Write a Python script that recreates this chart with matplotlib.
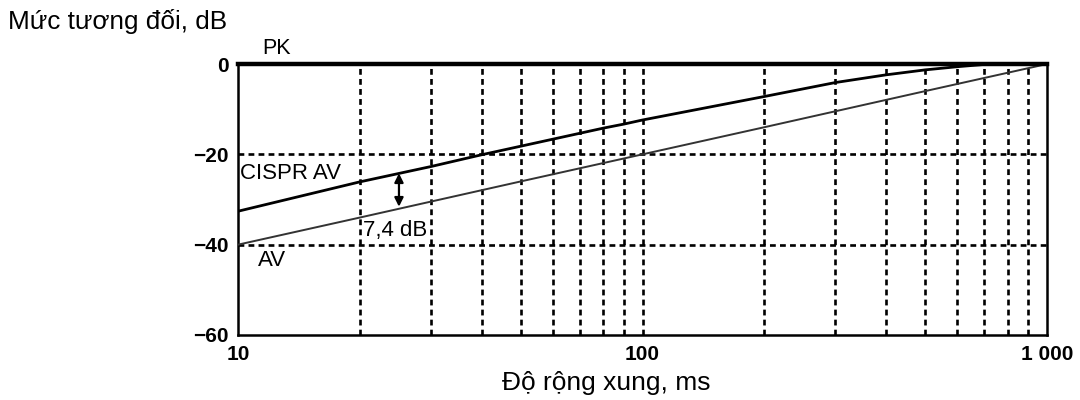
import matplotlib
matplotlib.use("Agg")
import matplotlib.pyplot as plt
from matplotlib.ticker import FixedLocator, NullFormatter

plt.rcParams['font.family'] = ['Liberation Sans', 'DejaVu Sans']

# Pulse width (ms) and relative level (dB) for each detector
pk_x = [10, 1000]
pk_y = [0, 0]

cispr_x = [10, 20, 30, 40, 50, 80, 90, 100, 200, 300, 400, 500, 600, 700, 800, 1000]
cispr_y = [-32.6, -26.1, -22.7, -20.1, -18.2, -14.2, -13.3, -12.4, -7.2, -4.1,
           -2.4, -1.3, -0.6, -0.1, 0.0, 0.0]

av_x = [10, 20, 50, 100, 200, 500, 1000]
av_y = [-40, -34, -26, -20, -14, -6, 0]

x_ticks = [10, 100, 1000]
x_tick_labels = ["10", "100", "1 000"]
y_ticks = [0, -20, -40, -60]
grid_x = [20, 30, 40, 50, 60, 70, 80, 90, 100, 200, 300, 400, 500, 600, 700, 800, 900]
grid_y = [-20, -40]

arrow_x = 25
arrow_top = -24.2
arrow_bottom = -31.6
gap_label = "7,4 dB"

fig = plt.figure(figsize=(10.8, 4.0), dpi=100)
ax = fig.add_axes([238 / 1080, 1 - 335 / 400, (1047 - 238) / 1080, (335 - 64) / 400])

ax.set_xscale("log")
ax.set_xlim(10, 1000)
ax.set_ylim(-60, 0)

dash = (0, (2.2, 1.6))
for gx in grid_x:
    ax.axvline(gx, color="black", lw=1.9, ls=dash, zorder=1)
for gy in grid_y:
    ax.axhline(gy, color="black", lw=1.9, ls=dash, zorder=1)

ax.plot(av_x, av_y, color="#333333", lw=1.4, zorder=3)
ax.plot(cispr_x, cispr_y, color="black", lw=2.0, zorder=3)
ax.plot(pk_x, pk_y, color="black", lw=3.2, zorder=4, clip_on=False)

ax.annotate("", xy=(arrow_x, arrow_bottom), xytext=(arrow_x, arrow_top),
            arrowprops=dict(arrowstyle="<|-|>", color="black", lw=1.6,
                            mutation_scale=13, shrinkA=0, shrinkB=0), zorder=5)
ax.text(24.4, -36.8, gap_label, fontsize=16, ha="center", va="center", zorder=5)

ax.text(10.1, -24.2, "CISPR AV", fontsize=16, ha="left", va="center", zorder=5)
ax.text(11.2, -43.6, "AV", fontsize=16, ha="left", va="center", zorder=5)
ax.text(11.45, 1.2, "PK", fontsize=15.5, ha="left", va="bottom", clip_on=False)

ax.xaxis.set_major_locator(FixedLocator(x_ticks))
ax.xaxis.set_minor_locator(FixedLocator([]))
ax.xaxis.set_minor_formatter(NullFormatter())
ax.set_xticklabels(x_tick_labels)
ax.set_yticks(y_ticks)
ax.set_yticklabels([f"{v:d}".replace("-", "\u2212") for v in y_ticks])
ax.tick_params(axis="both", length=0, labelsize=15, pad=7)
for lbl in ax.get_xticklabels() + ax.get_yticklabels():
    lbl.set_fontweight("bold")

for s in ax.spines.values():
    s.set_linewidth(1.8)
    s.set_color("black")

fig.text(8 / 1080, 1 - 22 / 400, "Mức tương đối, dB", fontsize=18.8, ha="left", va="center")
fig.text(606 / 1080, 1 - 383 / 400, "Độ rộng xung, ms", fontsize=19, ha="center", va="center")

fig.savefig("out.png", dpi=100, facecolor="white")
